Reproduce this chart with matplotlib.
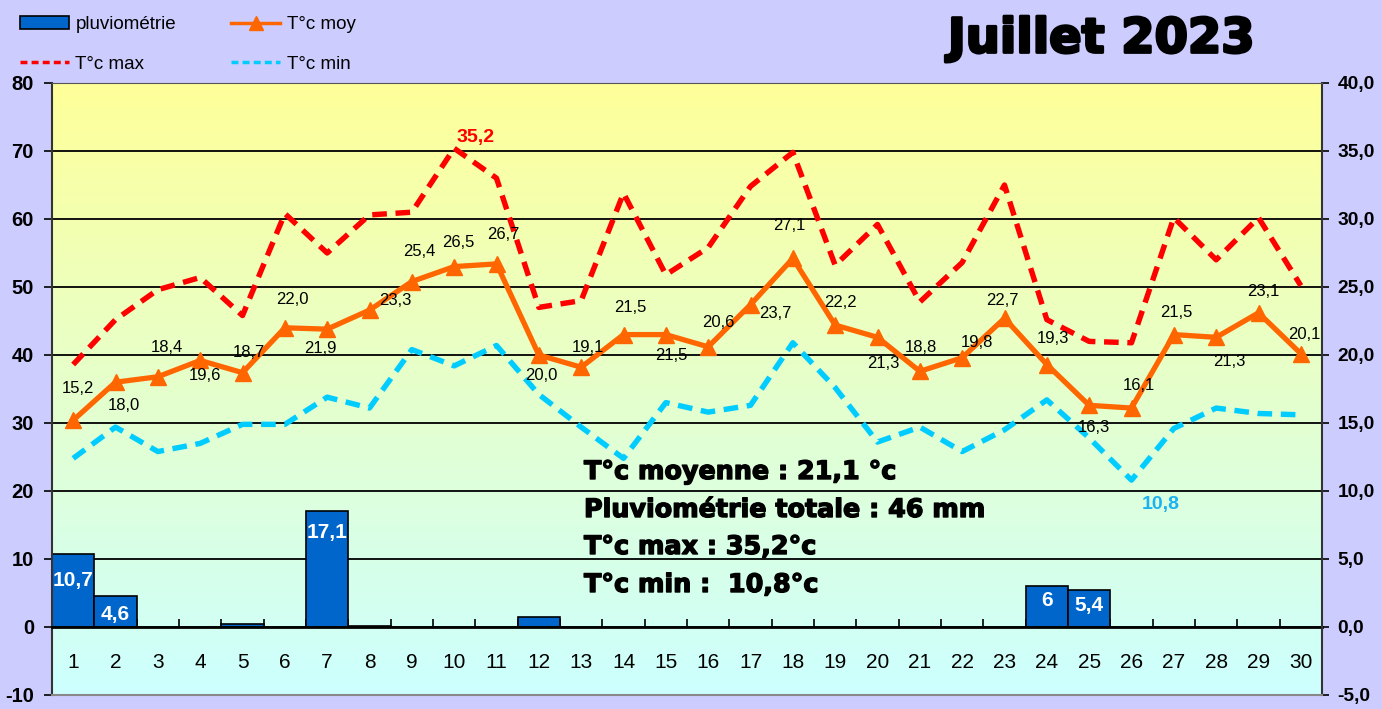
import numpy as np
import matplotlib
matplotlib.use("Agg")
import matplotlib.pyplot as plt
from matplotlib.lines import Line2D
from matplotlib.patches import Patch
import matplotlib.patheffects as pe

# ---------------- data ----------------
days = list(range(1, 31))
rain = [10.7, 4.6, 0, 0, 0.5, 0, 17.1, 0.2, 0, 0, 0, 1.4, 0, 0, 0,
        0, 0, 0, 0, 0, 0, 0, 0, 6.0, 5.4, 0, 0, 0, 0, 0]
rain_labelled = [1, 2, 7, 24, 25]
t_moy = [15.2, 18.0, 18.4, 19.6, 18.7, 22.0, 21.9, 23.3, 25.4, 26.5,
         26.7, 20.0, 19.1, 21.5, 21.5, 20.6, 23.7, 27.1, 22.2, 21.3,
         18.8, 19.8, 22.7, 19.3, 16.3, 16.1, 21.5, 21.3, 23.1, 20.1]
t_max = [19.3, 22.6, 24.8, 25.7, 22.9, 30.4, 27.5, 30.3, 30.5, 35.2,
         33.0, 23.5, 24.0, 31.9, 25.9, 27.9, 32.4, 34.9, 26.6, 29.6,
         23.9, 26.8, 32.5, 22.6, 21.0, 20.9, 30.1, 27.0, 30.1, 25.1]
t_min = [12.4, 14.7, 12.9, 13.5, 14.9, 14.9, 16.9, 16.1, 20.4, 19.2,
         20.7, 17.1, 14.7, 12.4, 16.5, 15.8, 16.3, 20.9, 17.6, 13.6,
         14.7, 12.9, 14.5, 16.7, 13.9, 10.8, 14.6, 16.1, 15.7, 15.6]
title = "Juillet 2023"
stats = ["T°c moyenne : 21,1 °c",
         "Pluviométrie totale : 46 mm",
         "T°c max : 35,2°c",
         "T°c min :  10,8°c"]
left_ticks = [-10, 0, 10, 20, 30, 40, 50, 60, 70, 80]
right_ticks = [-5, 0, 5, 10, 15, 20, 25, 30, 35, 40]

# label offsets (pixels) for T moy labels - styling
moy_off = [(5, 32), (8, -23), (9, 29), (5, -15), (6, 20), (8, 28), (-7, -19),
           (26, 10), (7, 30), (4, 24), (7, 29), (2, -20), (7, 20), (7, 27),
           (5, -21), (10, 24), (25, -9), (-4, 33), (5, 23), (6, -26), (1, 24),
           (15, 15), (-2, 18), (6, 26), (5, -22), (7, 23), (2, 22), (13, -24),
           (5, 21), (3, 19)]
rain_off = {1: -26, 2: -19, 7: -22, 24: -14, 25: -15}

BG = "#CCCCFF"
BLUE = "#0066CC"
ORANGE = "#FF6600"
RED = "#FF0000"
CYAN = "#00CCFF"

W, H = 1382, 709
fig = plt.figure(figsize=(W / 100, H / 100), dpi=100, facecolor=BG)
ax = fig.add_axes([52 / W, (H - 695) / H, 1270 / W, 612 / H])
ax2 = ax.twinx()

ax.set_xlim(0.5, 30.5)
ax.set_ylim(-10, 80)
ax2.set_ylim(-5, 40)

# gradient background
top = np.array([255, 255, 153]) / 255
bot = np.array([204, 255, 255]) / 255
t = np.linspace(0, 1, 256)[:, None]
grad = (top[None, :] * (1 - t) + bot[None, :] * t)[:, None, :]
ax.imshow(grad, extent=[0.5, 30.5, -10, 80], aspect="auto", zorder=0,
          interpolation="bilinear")

for y in [10, 20, 30, 40, 50, 60, 70]:
    ax.axhline(y, color="black", lw=1.3, zorder=1)

# bars
ax.bar(days, rain, width=1.0, color=BLUE, edgecolor="black", lw=1.2, zorder=2)
for d in rain_labelled:
    v = rain[d - 1]
    ax.annotate(f"{v:g}".replace(".", ","), (d, v), xytext=(0, rain_off[d]),
                textcoords="offset pixels", ha="center", va="center",
                color="white", fontsize=15, fontweight="bold",
                family="Liberation Sans", zorder=3)

# spines / ticks of ax
ax.spines["bottom"].set_position(("data", 0))
ax.spines["bottom"].set_linewidth(2)
ax.spines["bottom"].set_color("black")
ax.spines["top"].set_visible(False)
ax.spines["right"].set_visible(False)
ax.spines["left"].set_color("#333333")
ax.spines["left"].set_linewidth(1.5)
ax.set_xticks(days)
ax.set_xticklabels([str(d) for d in days], fontsize=15, family="Liberation Sans")
ax.set_xticks(np.arange(0.5, 31, 1.0), minor=True)
ax.tick_params(axis="x", which="major", length=0, pad=19)
ax.tick_params(axis="x", which="minor", direction="in", length=6, width=1.2)
ax.set_yticks(left_ticks)
ax.set_yticklabels([str(v) for v in left_ticks], fontsize=14.5,
                   fontweight="bold", family="Liberation Sans")
ax.tick_params(axis="y", length=6, width=1.2, pad=7)

ax2.set_yticks(right_ticks)
ax2.set_yticklabels([f"{v:.1f}".replace(".", ",") for v in right_ticks],
                    fontsize=13.8, fontweight="bold", family="Liberation Sans")
ax2.tick_params(axis="y", length=5, width=1.2, pad=6)
ax2.spines["left"].set_visible(False)
ax2.spines["right"].set_color("#333333")
ax2.spines["right"].set_linewidth(1.5)
ax2.spines["top"].set_color("#555555")
ax2.spines["bottom"].set_color("#888888")
ax2.spines["bottom"].set_linewidth(1.5)

# temperature lines
ax2.plot(days, t_max, color=RED, lw=3.9, dashes=(2.7, 1.6), zorder=3)
ax2.plot(days, t_min, color=CYAN, lw=3.9, dashes=(2.7, 1.6), zorder=3)
ax2.plot(days, t_moy, color=ORANGE, lw=3.8, marker="^", ms=12, zorder=4)

for d, v, off in zip(days, t_moy, moy_off):
    ax2.annotate(f"{v:.1f}".replace(".", ","), (d, v), xytext=off,
                 textcoords="offset pixels", ha="center", va="center",
                 fontsize=12, family="Liberation Sans", zorder=5)

imax = int(np.argmax(t_max))
ax2.annotate(f"{t_max[imax]:.1f}".replace(".", ","), (days[imax], t_max[imax]),
             xytext=(21, 11), textcoords="offset pixels", ha="center",
             va="center", color=RED, fontsize=14, fontweight="bold",
             family="Liberation Sans", zorder=5)
imin = int(np.argmin(t_min))
ax2.annotate(f"{t_min[imin]:.1f}".replace(".", ","), (days[imin], t_min[imin]),
             xytext=(29, -24), textcoords="offset pixels", ha="center",
             va="center", color="#1AB2F0", fontsize=14, fontweight="bold",
             family="Liberation Sans", zorder=5)

heavy = [pe.withStroke(linewidth=1.0, foreground="black")]
# stats text
for i, s in enumerate(stats):
    fig.text(584 / W, 1 - [472, 510, 547, 585][i] / H, s, ha="left",
             va="center", fontsize=18.3, fontweight="bold",
             family="DejaVu Sans", color="black", zorder=6, path_effects=heavy)

# title
fig.text(1101 / W, 1 - 39 / H, title, ha="center", va="center",
         fontsize=34.5, fontweight="bold", family="DejaVu Sans",
         path_effects=[pe.withStroke(linewidth=2.0, foreground="black")])

# legend
handles = [Patch(facecolor=BLUE, edgecolor="black", lw=1.2),
           Line2D([], [], color=RED, lw=2.5, dashes=(2, 1.2)),
           Line2D([], [], color=ORANGE, lw=2.5, marker="^", ms=10),
           Line2D([], [], color=CYAN, lw=2.5, dashes=(2, 1.2))]
labels = ["pluviométrie", "T°c max", "T°c moy", "T°c min"]
fig.legend(handles, labels, loc="upper left",
           bbox_to_anchor=(20 / W, 1 - 16 / H), ncol=2, frameon=False,
           prop={"family": "Liberation Sans", "size": 13.5},
           borderpad=0, borderaxespad=0, handlelength=2.6,
           handletextpad=0.35, columnspacing=2.95, labelspacing=1.2)

fig.savefig("out.png", dpi=100, facecolor=BG)
